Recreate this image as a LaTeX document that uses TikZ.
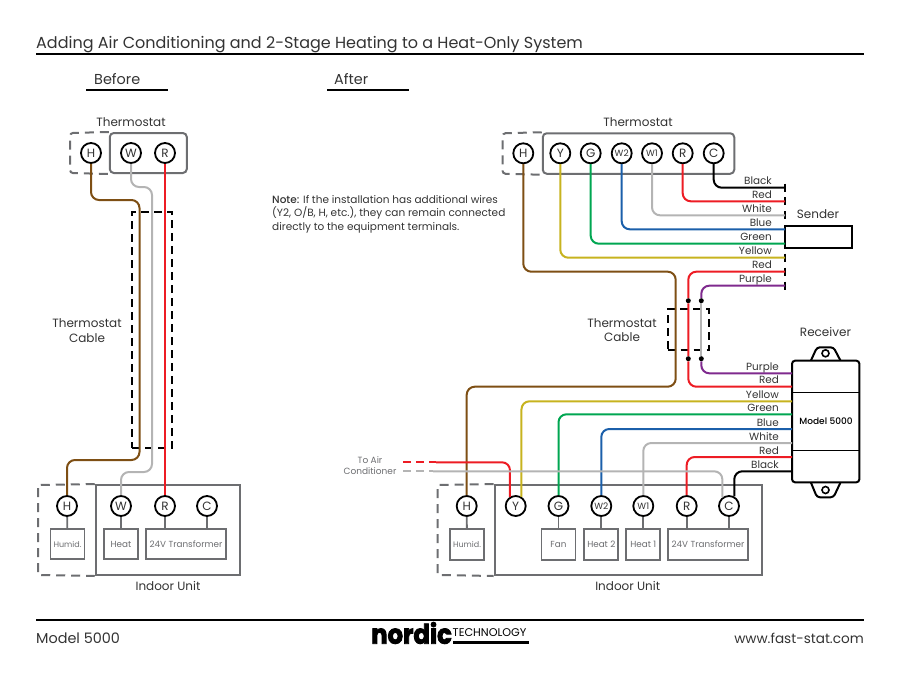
\documentclass[tikz,border=0pt]{standalone}
\usepackage{fontspec}
\setmainfont{Poppins}
\newfontfamily\medfont{Poppins Medium}
\newfontfamily\logofont[FakeBold=3,FakeStretch=0.9]{Poppins}
\definecolor{wbrown}{HTML}{7E4F14}
\definecolor{wgray}{HTML}{B4B4B4}
\definecolor{wred}{HTML}{ED1C24}
\definecolor{wyellow}{HTML}{C7B31F}
\definecolor{wgreen}{HTML}{00A651}
\definecolor{wblue}{HTML}{1B5FAA}
\definecolor{wpurple}{HTML}{7F2A8E}
\definecolor{boxgray}{HTML}{6D6E71}
\definecolor{inkgray}{HTML}{333333}
\tikzset{
  term/.style={circle,draw=black,line width=1.8,fill=white,minimum size=20,inner sep=0,text=inkgray,font=\fontsize{12}{12}\selectfont},
  termsm/.style={term,font=\fontsize{9}{9}\selectfont},
  unitbox/.style={draw=boxgray,line width=1.8,fill=white,minimum height=30.5,inner sep=0,text=boxgray,font=\fontsize{8.8}{9}\selectfont},
  graybox/.style={draw=boxgray,line width=2,inner sep=0},
  graydash/.style={draw=boxgray,line width=2,dash pattern=on 9 off 6},
  cabledash/.style={draw=black,line width=1.8,dash pattern=on 8 off 5},
  wire/.style={line width=2,rounded corners=8},
  stub/.style={draw=boxgray,line width=1.8},
  lbl/.style={text=inkgray,inner sep=0,font=\fontsize{12}{14.5}\selectfont,align=center},
  wirelbl/.style={text=inkgray,inner sep=0,anchor=base east,font=\fontsize{10.4}{11}\selectfont},
  head/.style={text=inkgray,inner sep=0,anchor=base west,font=\fontsize{14.4}{16}\selectfont},
  dot/.style={circle,fill=black,minimum size=5,inner sep=0},
}
\begin{document}
\begin{tikzpicture}[x=1pt,y=-1pt]
\useasboundingbox (0,0) rectangle (900,680);
\node[head,font=\fontsize{16}{18}\selectfont] (title) at (36,48) {Adding Air Conditioning and 2-Stage Heating to a Heat-Only System};
\draw[line width=2] (36,54) -- (864,54);
\draw[line width=2] (36,620) -- (864,620);
\node[head] (footL) at (36,643) {Model 5000};
\node[head,anchor=base east,font=\fontsize{13.6}{16}\selectfont] (footR) at (864,643) {www.fast-stat.com};
\node[inner sep=0,anchor=base west,font=\fontsize{27}{27}\logofont\bfseries\selectfont] (logoA) at (371,643.7) {nordic};
\node[inner sep=0,anchor=base west,font=\fontsize{11.2}{12}\selectfont] (logoB) at (452.5,636.7) {TECHNOLOGY};
\fill (452.5,640.5) rectangle (529,643.7);
\node[head] (hBefore) at (94,84) {Before};
\node[head] (hAfter) at (334,84) {After};
\draw[line width=1.5] (86,90) -- (168,90);
\draw[line width=1.5] (327,90) -- (409,90);

% before, thermostat
\node[lbl] (tLblA) at (131,122) {Thermostat};
\node[graybox,rounded corners=4,minimum width=77,minimum height=40] (tBoxA) at (148.3,153) {};
\draw[graydash,rounded corners=3] (tBoxA.north west) -- (70,133) -- (70,173) -- (tBoxA.south west);
\foreach \nm/\x in {H/91,W/131,R/165} {
\node[term] (ta\nm) at (\x,153) {\nm};
}
% before, indoor unit
\node[graybox,minimum width=144.5,minimum height=90] (iBoxA) at (168,530) {};
\draw[graydash] (iBoxA.north west) -- (38,485) -- (38,575) -- (iBoxA.south west);
\foreach \nm/\x in {H/67,W/121,R/165,C/207} {
\node[term] (ba\nm) at (\x,506) {\nm};
}
\node[unitbox,minimum width=34] (uaHumid) at (67.5,544) {\fontsize{8}{9}\selectfont Humid.};
\node[unitbox,minimum width=34] (uaHeat) at (121,544) {Heat};
\node[unitbox,minimum width=80] (uaXfmr) at (186,544) {24V Transformer};
\draw[stub] (baH) -- (uaHumid);
\draw[stub] (baW) -- (uaHeat);
\draw[stub] (baR.south) -- (baR |- uaXfmr.north);
\draw[stub] (baC.south) -- (baC |- uaXfmr.north);
\node[lbl] (uLblA) at (168,586) {Indoor Unit};
\node[cabledash,minimum width=40,minimum height=236,inner sep=0] (cabA) at (152,330) {};
\node[lbl] (cLblA) at (87,330.5) {Thermostat\\Cable};
\draw[wire,wbrown] (taH.south) -- (91,200) -- (139.5,200) -- (139.5,460) -- (67,460) -- (baH.north);
\draw[wire,wgray] (taW.south) -- (131,187) -- (152,187) -- (152,472) -- (121,472) -- (baW.north);
\draw[wire,wred] (taR.south) -- (baR.north);

\node[inner sep=0,anchor=base west,text=inkgray,align=left,font=\fontsize{10.5}{13.5}\selectfont] (note) at (272,230)
 {{\medfont Note:} If the installation has additional wires\\(Y2, O/B, H, etc.), they can remain connected\\directly to the equipment terminals.};

% after, thermostat
\node[lbl] (tLblB) at (638,122) {Thermostat};
\node[graybox,rounded corners=4,minimum width=191.5,minimum height=40.5] (tBoxB) at (638.5,153.5) {};
\draw[graydash,rounded corners=3] (tBoxB.north west) -- (502.5,133.3) -- (502.5,173.7) -- (tBoxB.south west);
\foreach \nm/\x in {H/523.3,Y/560.3,G/590.7,R/682.7,C/713.7} {
\node[term] (tb\nm) at (\x,153.3) {\nm};
}
\node[termsm] (tbW2) at (621.7,153.3) {W2};
\node[termsm] (tbW1) at (652,153.3) {W1};
% after, indoor unit
\node[graybox,minimum width=267.5,minimum height=90] (iBoxB) at (628.3,530) {};
\draw[graydash] (iBoxB.north west) -- (437.7,485) -- (437.7,575) -- (iBoxB.south west);
\foreach \nm/\x in {H/466.7,Y/515.7,G/558.5,R/686.7,C/729} {
\node[term] (bb\nm) at (\x,506) {\nm};
}
\node[termsm] (bbW2) at (601.3,506) {W2};
\node[termsm] (bbW1) at (643.3,506) {W1};
\foreach \nm/\x/\w/\txt in {Humid/467/34/{\fontsize{8}{9}\selectfont Humid.},Fan/558.5/34/Fan,HeatB/601.3/34/Heat 2,HeatA/643.3/34/Heat 1,Xfmr/708/79.5/24V Transformer} {
\node[unitbox,minimum width=\w] (ub\nm) at (\x,544.5) {\txt};
}
\draw[stub] (bbH) -- (ubHumid);
\draw[stub] (bbG) -- (ubFan);
\draw[stub] (bbW2) -- (ubHeatB);
\draw[stub] (bbW1) -- (ubHeatA);
\draw[stub] (bbR.south) -- (bbR |- ubXfmr.north);
\draw[stub] (bbC.south) -- (bbC |- ubXfmr.north);
\node[lbl] (uLblB) at (627.7,586) {Indoor Unit};

% sender
\node[draw=black,line width=2,fill=white,minimum width=66.7,minimum height=22,inner sep=0] (sender) at (818.3,236.7) {};
\node[lbl] (sLbl) at (818,214) {Sender};
\foreach \y in {187.7,201.3,215.3,257.7,271.7,285.7} {
\draw[line width=2] (785,\y-4) -- (785,\y+4);
}
\foreach \y/\txt [count=\i] in {187.7/Black,201.3/Red,215.3/White,229.3/Blue,243.7/Green,257.7/Yellow,271.7/Red,285.7/Purple} {
\node[wirelbl] (sw\i) at (772,\y-3) {\txt};
\coordinate (se\i) at (785,\y);
}
\draw[wire,black] (tbC.south) |- (se1);
\draw[wire,wred] (tbR.south) |- (se2);
\draw[wire,wgray] (tbW1.south) |- (se3);
\draw[wire,wblue] (tbW2.south) |- (se4);
\draw[wire,wgreen] (tbG.south) |- (se5);
\draw[wire,wyellow] (tbY.south) |- (se6);

% receiver
\draw[line width=2,rounded corners=3,fill=white] (810.7,361) -- (817,347.3) -- (833.5,347.3) -- (840.7,361);
\draw[line width=2,rounded corners=3,fill=white] (810.7,482) -- (817,497.3) -- (833.5,497.3) -- (840.7,482);
\node[draw=black,line width=1.6,circle,minimum size=7,inner sep=0] (holeT) at (825.5,353.3) {};
\node[draw=black,line width=1.6,circle,minimum size=7,inner sep=0] (holeB) at (825.5,490) {};
\node[draw=black,line width=2,fill=white,rounded corners=3,minimum width=67.3,minimum height=121.6,inner sep=0] (recv) at (825.7,421.5) {};
\draw[line width=1.5] (792,392.3) -- (859.4,392.3);
\draw[line width=1.5] (792,450.3) -- (859.4,450.3);
\node[inner sep=0,font=\fontsize{9}{9}\medfont\selectfont] (recvTxt) at (826,421) {Model 5000};
\node[lbl] (rLbl) at (825.5,332) {Receiver};
\foreach \y/\txt [count=\i] in {373.3/Purple,386.7/Red,401.3/Yellow,414.3/Green,429/Blue,443/White,457/Red,471.3/Black} {
\node[wirelbl] (rw\i) at (779,\y-3) {\txt};
\coordinate (re\i) at (792,\y);
}
\draw[wire,wyellow] (re3) -| (bbY.58);
\draw[wire,wgreen] (re4) -| (bbG.north);
\draw[wire,wblue] (re5) -| (bbW2.north);
\draw[wire,wgray] (re6) -| (bbW1.north);
\draw[wire,wred] (re7) -| (bbR.north);
\draw[wire,black] (re8) -| (bbC.61);

% cable, after
\node[cabledash,minimum width=41.6,minimum height=40.7,inner sep=0] (cabB) at (688.5,329.7) {};
\node[lbl] (cLblB) at (622,330) {Thermostat\\Cable};
\node[dot] (dTa) at (688.3,300.7) {};
\node[dot] (dTb) at (701.3,300.7) {};
\node[dot] (dBa) at (688.3,358.7) {};
\node[dot] (dBb) at (701.3,358.7) {};
\draw[wire,wbrown] (tbH.south) -- (523.3,271.7) -- (675.7,271.7) -- (675.7,386.7) -- (466.7,386.7) -- (bbH.north);
\draw[wire,wred] (se7) -| (dTa) -- (dBa) |- (re2);
\draw[wire,wpurple] (se8) -| (dTb);
\draw[wire,wgray] (dTb) -- (dBb);
\draw[wire,wpurple] (dBb) |- (re1);

% to air conditioner
\node[inner sep=0,align=center,text=boxgray,font=\fontsize{9}{11}\selectfont] (acLbl) at (370,466) {To Air\\Conditioner};
\coordinate (acR) at (436,462.3);
\coordinate (acG) at (433,471.3);
\draw[wred,line width=2,dash pattern=on 8 off 5] (403,462.3) -- (acR);
\draw[wgray,line width=2,dash pattern=on 8 off 5] (403,471.3) -- (acG);
\draw[wire,wred] (acR) -- (510,462.3) -- (bbY.122);
\draw[wire,wgray] (acG) -- (722.3,471.3) -- (bbC.127);
\end{tikzpicture}
\end{document}
